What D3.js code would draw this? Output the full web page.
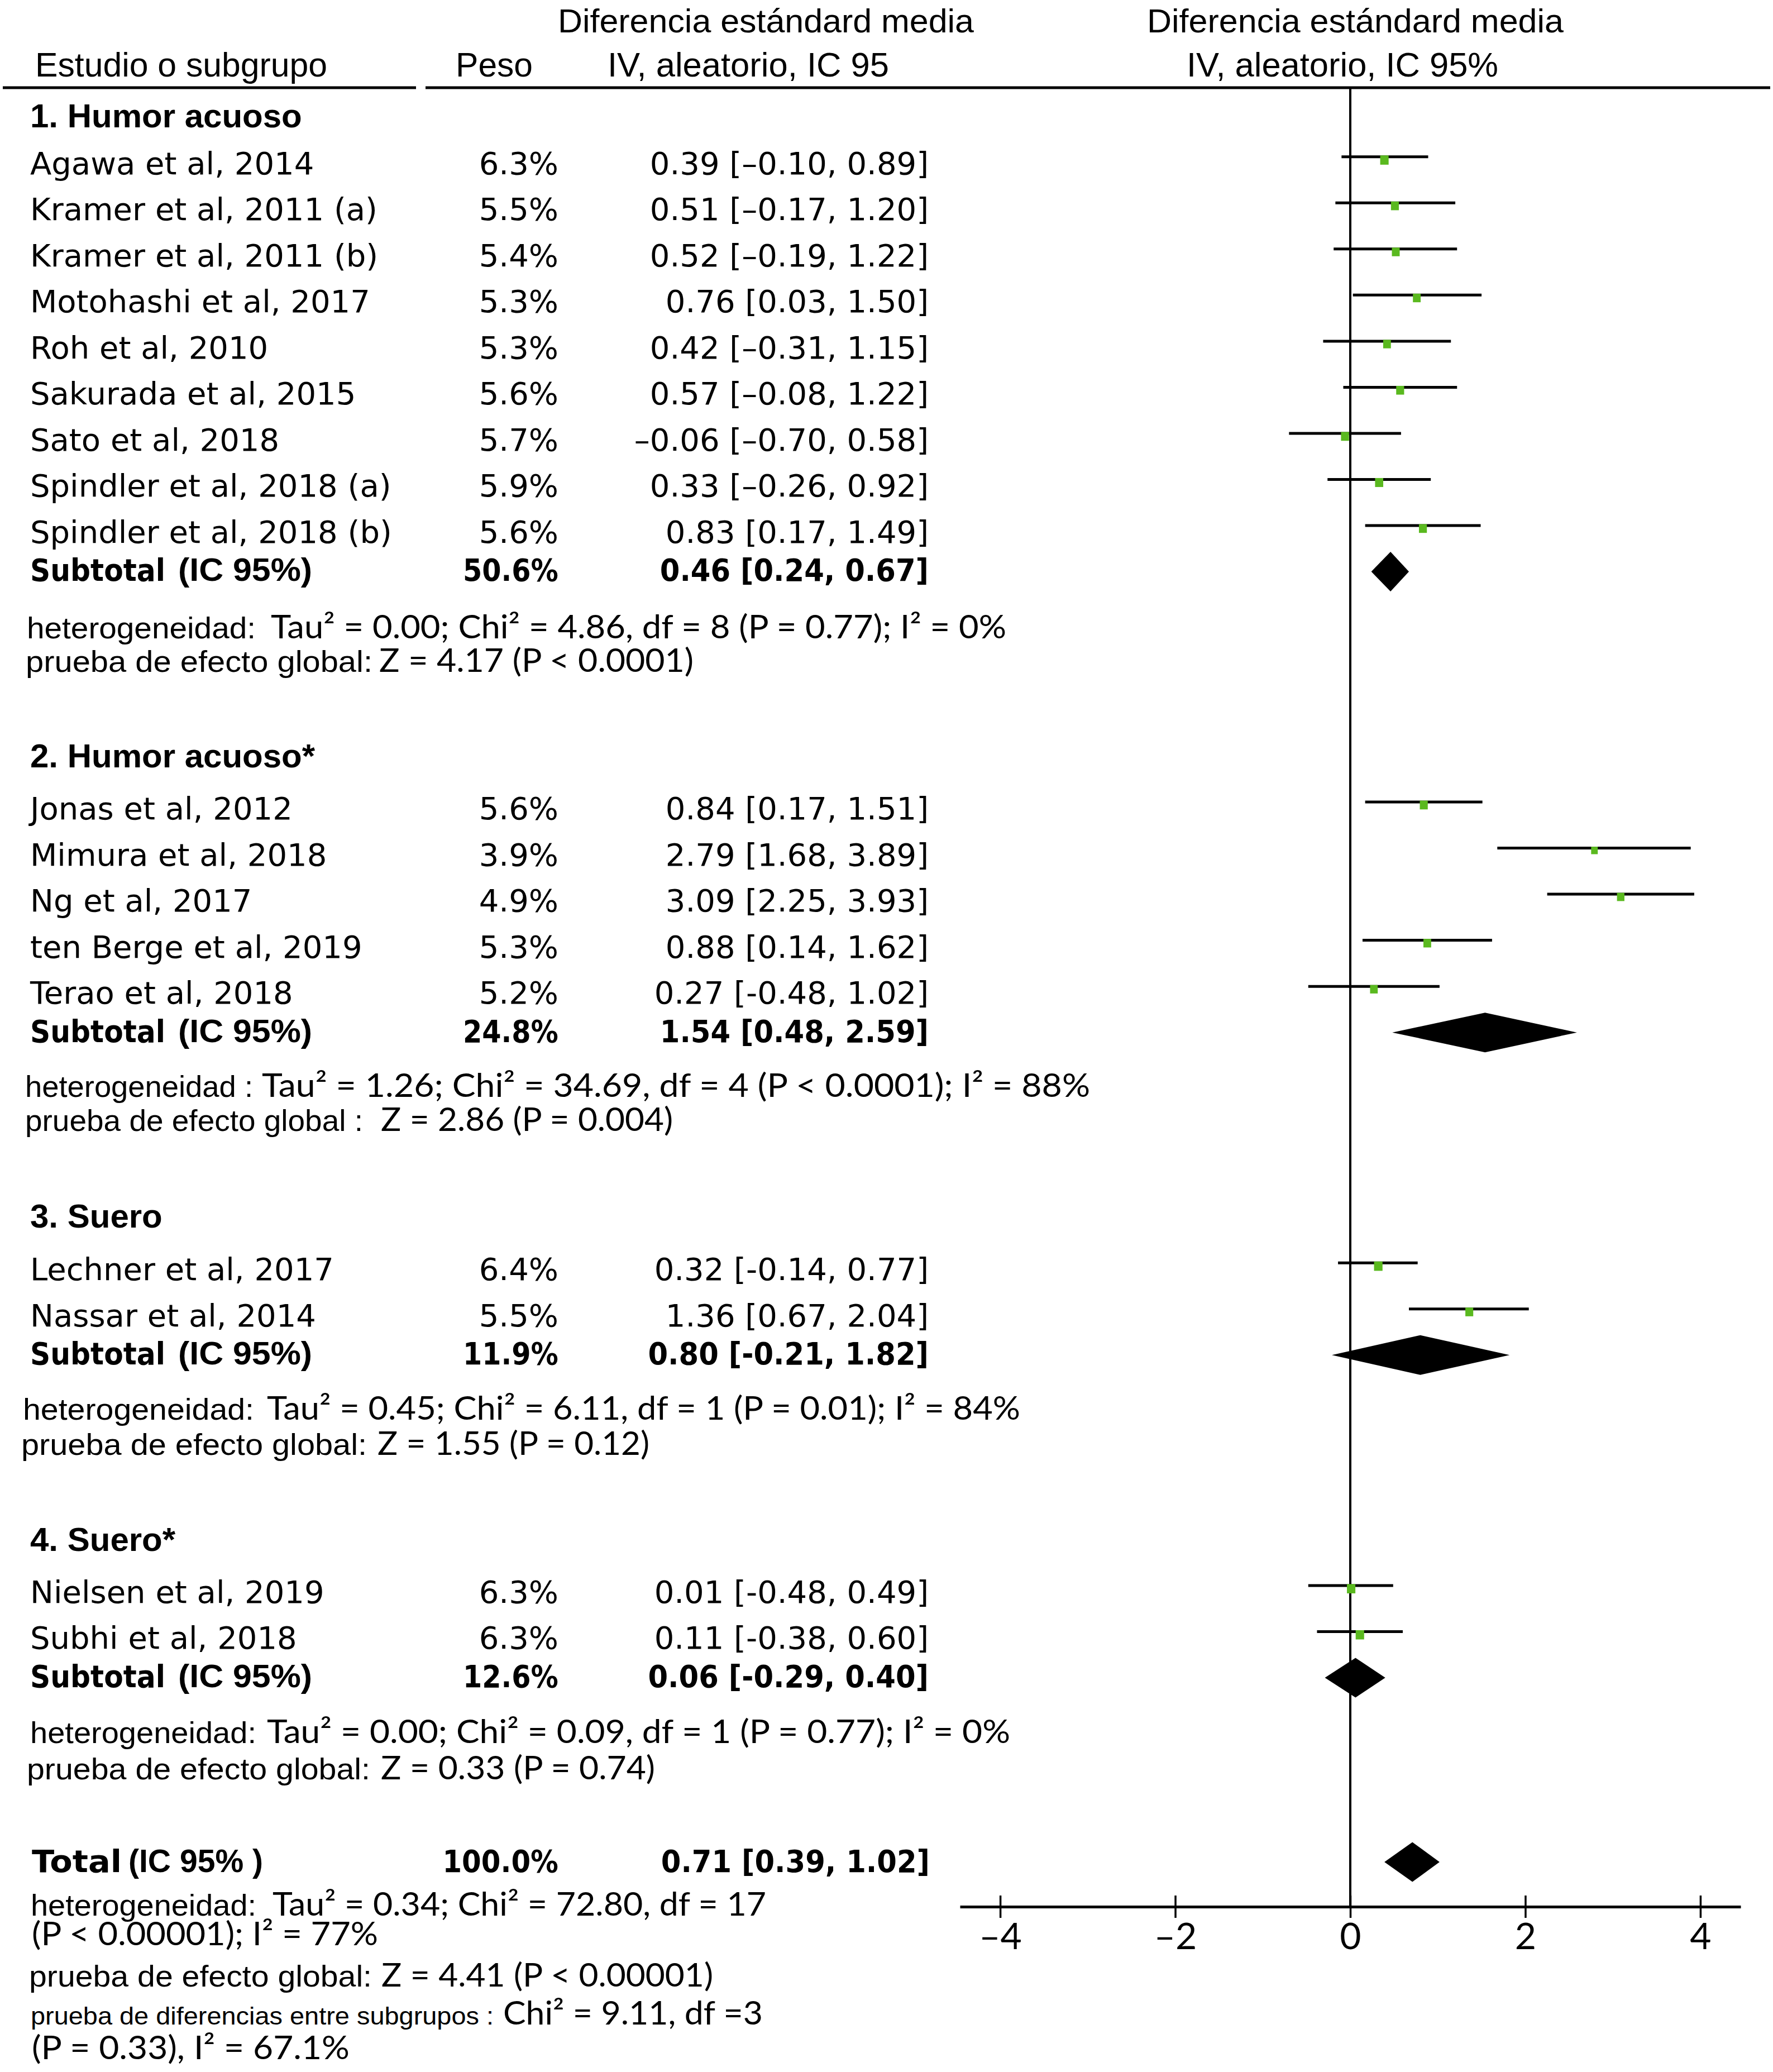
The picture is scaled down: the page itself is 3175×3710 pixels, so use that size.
<!DOCTYPE html>
<html><head><meta charset="utf-8">
<script src="https://cdn.jsdelivr.net/npm/d3@7"></script>
<style>body{margin:0;background:#fff}svg{display:block}</style>
</head><body>
<script>
// ---------------- DATA ----------------
const studies = ["Agawa et al, 2014","Kramer et al, 2011 (a)","Kramer et al, 2011 (b)","Motohashi et al, 2017","Roh et al, 2010","Sakurada et al, 2015","Sato et al, 2018","Spindler et al, 2018 (a)","Spindler et al, 2018 (b)","Jonas et al, 2012","Mimura et al, 2018","Ng et al, 2017","ten Berge et al, 2019","Terao et al, 2018","Lechner et al, 2017","Nassar et al, 2014","Nielsen et al, 2019","Subhi et al, 2018"];
const studyGroup = [0,0,0,0,0,0,0,0,0,1,1,1,1,1,2,2,3,3];
const weights = [6.3,5.5,5.4,5.3,5.3,5.6,5.7,5.9,5.6,5.6,3.9,4.9,5.3,5.2,6.4,5.5,6.3,6.3];
const estimates = [0.39,0.51,0.52,0.76,0.42,0.57,-0.06,0.33,0.83,0.84,2.79,3.09,0.88,0.27,0.32,1.36,0.01,0.11];
const lowers = [-0.10,-0.17,-0.19,0.03,-0.31,-0.08,-0.70,-0.26,0.17,0.17,1.68,2.25,0.14,-0.48,-0.14,0.67,-0.48,-0.38];
const uppers = [0.89,1.20,1.22,1.50,1.15,1.22,0.58,0.92,1.49,1.51,3.89,3.93,1.62,1.02,0.77,2.04,0.49,0.60];

const groupTitles = ["1. Humor acuoso","2. Humor acuoso*","3. Suero","4. Suero*"];
const subWeights = [50.6,24.8,11.9,12.6];
const subEstimates = [0.46,1.54,0.80,0.06];
const subLowers = [0.24,0.48,-0.21,-0.29];
const subUppers = [0.67,2.59,1.82,0.40];
const totalWeight = 100.0, totalEstimate = 0.71, totalLower = 0.39, totalUpper = 1.02;

const hetTexts = [
  [["heterogeneidad:","Tau² = 0.00; Chi² = 4.86, df = 8 (P = 0.77); I² = 0%"],["prueba de efecto global:","Z = 4.17 (P < 0.0001)"]],
  [["heterogeneidad :","Tau² = 1.26; Chi² = 34.69, df = 4  (P < 0.0001); I² = 88%"],["prueba de efecto global :","Z = 2.86 (P = 0.004)"]],
  [["heterogeneidad:","Tau² = 0.45; Chi² = 6.11, df = 1 (P = 0.01); I² = 84%"],["prueba de efecto global:","Z = 1.55 (P = 0.12)"]],
  [["heterogeneidad:","Tau² = 0.00; Chi² = 0.09, df = 1 (P = 0.77); I² = 0%"],["prueba de efecto global:","Z = 0.33 (P = 0.74)"]]
];
const totalTexts = [
  ["heterogeneidad:","Tau² = 0.34; Chi² = 72.80, df = 17"],
  [null,"(P < 0.00001); I² = 77%"],
  ["prueba de efecto global:","Z = 4.41 (P < 0.00001)"],
  ["prueba de diferencias entre subgrupos :","Chi² = 9.11, df =3"],
  [null,"(P = 0.33), I² = 67.1%"]
];
const tickValues = [-4,-2,0,2,4];
const headerLeft = ["Estudio o subgrupo","Peso","Diferencia estándard media","IV, aleatorio, IC 95"];
const headerRight = ["Diferencia estándard media","IV, aleatorio, IC 95%"];

// ---------------- LAYOUT ----------------
const W = 3175, H = 3710;
const groupStartSlot = [0,14,24,31];
const totalSlot = 37;
const titleY = [228,1374,2198,2777];
const hetY = [[1143,1203],[1964,2025],[2542,2605],[3121,3186]];
const hetX = [
  [[[48,458],[485,1802]],[[46,667],[679,1242]]],
  [[[45,453],[469,1952]],[[45,650],[682,1205]]],
  [[[41,455],[478,1827]],[[38,657],[676,1163]]],
  [[[54,459],[478,1809]],[[48,663],[682,1173]]]
];
const totalY = [3430,3483,3557,3625,3687];
const totalX = [[[55,459],[488,1372]],[null,[57,677]],[[52,666],[683,1277]],[[55,884],[901,1366]],[null,[57,626]]];
const axisY = 3414, ruleY = 157;
const colName = 54, colWeightR = 1000, colCIR = 1663;
const green = "#5ab91f";

const x = d3.scaleLinear().domain([-4.46, 4.46]).range([1719, 3117]);
const y = d3.scaleLinear().domain([0, 37]).range([280.8, 3334]);
const sq = d3.scaleSqrt().domain([0, 6.4]).range([0, 15.2]);

const svg = d3.select("body").append("svg").attr("width", W).attr("height", H)
  .attr("viewBox", `0 0 ${W} ${H}`);
svg.append("rect").attr("width", W).attr("height", H).attr("fill", "#fff");

const fName = "'DejaVu Sans', sans-serif";
const fHelv = "'Liberation Sans', Arial, sans-serif";
const fCal = "Lato, 'Open Sans', sans-serif";

function txt(s, xx, yy, o = {}) {
  const t = svg.append("text").attr("x", xx).attr("y", yy).text(s)
    .attr("font-family", o.family || fName).attr("font-size", o.size || 56)
    .attr("font-weight", o.weight || "normal").attr("fill", "#000");
  if (o.anchor) t.attr("text-anchor", o.anchor);
  if (o.len) t.attr("textLength", o.len).attr("lengthAdjust", "spacingAndGlyphs");
  return t;
}
function squeezedRight(s, right, yy, factor, o) {
  const t = txt(s, right, yy, o);
  const w = t.node().getComputedTextLength() * factor;
  t.attr("x", right - w).attr("textLength", w).attr("lengthAdjust", "spacingAndGlyphs");
  return t;
}
const fmtCI = (e, l, h, dash) => {
  const f = v => (v < 0 ? dash : "") + Math.abs(v).toFixed(2);
  return `${f(e)} [${f(l)}, ${f(h)}]`;
};

// ---------------- HEADER ----------------
txt(headerLeft[0], 63, 137, {family: fHelv, size: 61, len: 523});
txt(headerLeft[1], 816, 137, {family: fHelv, size: 61, len: 138});
txt(headerLeft[2], 999, 58, {family: fHelv, size: 60, len: 745});
txt(headerLeft[3], 1088, 137, {family: fHelv, size: 61, len: 504});
txt(headerRight[0], 2054, 58, {family: fHelv, size: 60, len: 746});
txt(headerRight[1], 2125, 137, {family: fHelv, size: 61, len: 558});
svg.append("line").attr("x1", 5).attr("x2", 745).attr("y1", ruleY).attr("y2", ruleY).attr("stroke", "#000").attr("stroke-width", 5);
svg.append("line").attr("x1", 762).attr("x2", 3170).attr("y1", ruleY).attr("y2", ruleY).attr("stroke", "#000").attr("stroke-width", 5);

// ---------------- ZERO LINE ----------------
svg.append("line").attr("x1", x(0)).attr("x2", x(0)).attr("y1", ruleY).attr("y2", axisY)
  .attr("stroke", "#000").attr("stroke-width", 4);

// ---------------- STUDIES ----------------
const rows = studies.map((s, i) => {
  const g = studyGroup[i];
  const k = studyGroup.slice(0, i).filter(v => v === g).length;
  return {name: s, g, slot: groupStartSlot[g] + k, w: weights[i], e: estimates[i], l: lowers[i], h: uppers[i]};
});
svg.selectAll("line.ci").data(rows).enter().append("line").attr("class", "ci")
  .attr("x1", d => x(d.l)).attr("x2", d => x(d.h))
  .attr("y1", d => y(d.slot)).attr("y2", d => y(d.slot))
  .attr("stroke", "#000").attr("stroke-width", 5);
svg.selectAll("rect.pt").data(rows).enter().append("rect").attr("class", "pt")
  .attr("x", d => x(d.e) - sq(d.w) / 2).attr("y", d => y(d.slot) - 2.5)
  .attr("width", d => sq(d.w)).attr("height", d => sq(d.w) + 1.5)
  .attr("fill", green);
rows.forEach(d => {
  const by = y(d.slot) + 31;
  txt(d.name, colName, by);
  txt(d.w.toFixed(1) + "%", colWeightR, by, {anchor: "end"});
  txt(fmtCI(d.e, d.l, d.h, d.g === 0 ? "–" : "-"), colCIR, by, {anchor: "end"});
});

// ---------------- DIAMONDS ----------------
const diamonds = subEstimates.map((e, g) => ({e, l: subLowers[g], h: subUppers[g], slot: groupStartSlot[g] + studyGroup.filter(v => v === g).length}));
diamonds.push({e: totalEstimate, l: totalLower, h: totalUpper, slot: totalSlot});
svg.selectAll("path.dia").data(diamonds).enter().append("path").attr("class", "dia")
  .attr("d", d => {
    const cy = y(d.slot), hh = 35.5;
    return `M${x(d.l)},${cy}L${x(d.e)},${cy - hh}L${x(d.h)},${cy}L${x(d.e)},${cy + hh}Z`;
  }).attr("fill", "#000");

// ---------------- GROUP TEXT ----------------
groupTitles.forEach((t, g) => {
  txt(t, 54, titleY[g], {family: fHelv, size: 60, weight: "bold"});
  const d = diamonds[g];
  const by = y(d.slot) + 17;
  txt("Subtotal", 54, by, {weight: "bold", len: 242});
  txt("(IC 95%)", 319, by, {family: fHelv, size: 58, weight: "bold", len: 240});
  squeezedRight(subWeights[g].toFixed(1) + "%", colWeightR, by, 0.88, {weight: "bold"});
  squeezedRight(fmtCI(subEstimates[g], subLowers[g], subUppers[g], "-"), colCIR, by, 0.915, {weight: "bold"});
  hetTexts[g].forEach((ln, j) => {
    const [px, rx] = hetX[g][j];
    txt(ln[0], px[0], hetY[g][j], {family: fHelv, size: 54, len: px[1] - px[0]});
    txt(ln[1], rx[0], hetY[g][j], {family: fCal, size: 58, len: rx[1] - rx[0]});
  });
});

// ---------------- TOTAL ----------------
{
  const by = y(totalSlot) + 18;
  txt("Total", 57, by, {weight: "bold", len: 161});
  txt("(IC 95% )", 230, by, {family: fHelv, size: 58, weight: "bold", len: 241});
  squeezedRight(totalWeight.toFixed(1) + "%", colWeightR, by, 0.89, {weight: "bold"});
  squeezedRight(fmtCI(totalEstimate, totalLower, totalUpper, "-"), colCIR + 2, by, 0.915, {weight: "bold"});
  totalTexts.forEach((ln, j) => {
    const [px, rx] = totalX[j];
    if (ln[0]) txt(ln[0], px[0], totalY[j], {family: fHelv, size: j === 3 ? 44 : 54, len: px[1] - px[0]});
    txt(ln[1], rx[0], totalY[j], {family: fCal, size: 58, len: rx[1] - rx[0]});
  });
}

// ---------------- AXIS ----------------
const axis = d3.axisBottom(x).tickValues(tickValues).tickSizeOuter(0).tickSizeInner(20)
  .tickFormat(d => d < 0 ? "–" + Math.abs(d) : String(d));
const ag = svg.append("g").attr("transform", `translate(0,${axisY})`).call(axis);
ag.select(".domain").attr("stroke", "#000").attr("stroke-width", 5);
ag.selectAll(".tick line").attr("y1", -20).attr("y2", 20).attr("stroke", "#000").attr("stroke-width", 3.5);
ag.selectAll(".tick text").attr("y", 76).attr("dy", 0)
  .attr("font-family", fCal).attr("font-size", 66).attr("fill", "#000");
</script>
</body></html>
